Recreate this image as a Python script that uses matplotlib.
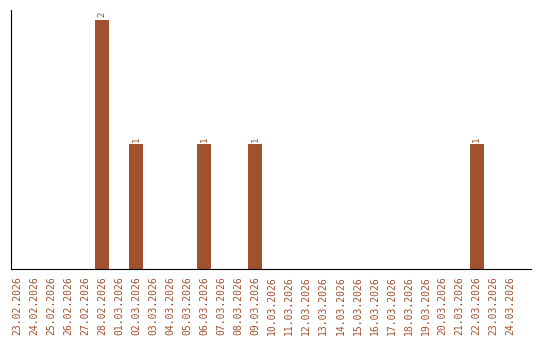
import matplotlib
matplotlib.use('Agg')
import matplotlib.pyplot as plt

dates = ['23.02.2026', '24.02.2026', '25.02.2026', '26.02.2026', '27.02.2026',
         '28.02.2026', '01.03.2026', '02.03.2026', '03.03.2026', '04.03.2026',
         '05.03.2026', '06.03.2026', '07.03.2026', '08.03.2026', '09.03.2026',
         '10.03.2026', '11.03.2026', '12.03.2026', '13.03.2026', '14.03.2026',
         '15.03.2026', '16.03.2026', '17.03.2026', '18.03.2026', '19.03.2026',
         '20.03.2026', '21.03.2026', '22.03.2026', '23.03.2026', '24.03.2026']
counts = [0, 0, 0, 0, 0, 2, 0, 1, 0, 0, 0, 1, 0, 0, 1,
          0, 0, 0, 0, 0, 0, 0, 0, 0, 0, 0, 0, 1, 0, 0]

color = '#a0522d'

fig = plt.figure(figsize=(5.4, 3.4), dpi=100)
ax = fig.add_axes([11 / 540, 71 / 340, 520 / 540, 259 / 340])

x = list(range(len(dates)))
ax.bar(x, counts, width=0.82, color=color)
for i, v in enumerate(counts):
    if v > 0:
        ax.text(i, v + 0.02, str(v), rotation=90, ha='center', va='bottom',
                color=color, fontsize=6.5, family='DejaVu Sans Mono')

ax.set_xlim(-0.35, 30.2)
ax.set_ylim(0, 2.08)
ax.set_xticks(x)
ax.set_xticklabels(dates, rotation=90, color=color, fontsize=7,
                   family='DejaVu Sans Mono')
ax.tick_params(axis='x', length=0, pad=5)
ax.set_yticks([])
ax.spines['top'].set_visible(False)
ax.spines['right'].set_visible(False)

fig.savefig('out.png', dpi=100)
